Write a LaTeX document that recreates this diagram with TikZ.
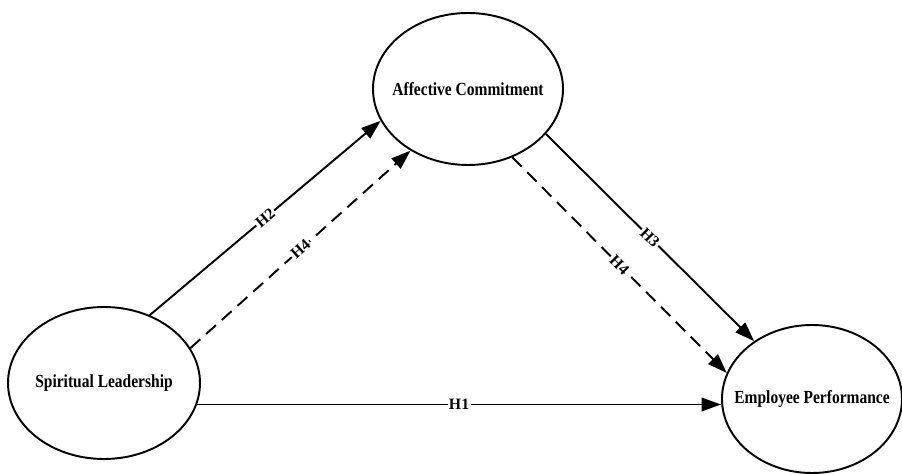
\documentclass[tikz,border=0pt]{standalone}
\usepackage{fontspec}
\setmainfont{Liberation Serif}
\newfontfamily\cnstfont[FakeStretch=0.84]{Liberation Serif}
\usetikzlibrary{positioning, arrows.meta, shapes.geometric}

\begin{document}
\begin{tikzpicture}[
		every edge/.style = {draw=black, line width=1.1pt},
		cnst/.style args = {#1/#2}{%
		ellipse, draw, line width=1.1pt, fill=white,
		minimum width=#1, minimum height=#2, inner sep=0pt},
		cnsttxt/.style = {font=\cnstfont\bfseries\fontsize{10.5}{12}\selectfont},
		hyp/.style = {fill=white, inner sep=0.8pt, sloped,
		font=\bfseries\fontsize{9}{10}\selectfont},
		dsh/.style = {dash pattern=on 7.5pt off 4.5pt},
		arr/.style = {-{Triangle[length=3.9mm,width=2.7mm]}}
                    ]
		\useasboundingbox (0,0) rectangle (18.04,9.5);
		\node(SL) [cnst=3.84cm/3.04cm] at (2.08, 1.84) {};
		\node(AC) [cnst=3.8cm/3.04cm] at (9.36, 7.72) {};
		\node(EP) [cnst=3.6cm/2.96cm] at (16.24, 1.52) {};
		\node(SLt) [cnsttxt] at (SL) {Spiritual Leadership};
		\node(ACt) [cnsttxt] at (AC) {Affective Commitment};
		\node(EPt) [cnsttxt] at (EP) {Employee Performance};

		\path   (SL.-13.5) edge[arr] node[hyp] {H1} (SL.-13.5 -| EP.west)
		        (SL.56) edge[arr] node[hyp] {H2} (AC.200.6)
		        (AC.330) edge[arr] node[hyp] {H3} (EP.135)
		        (SL.22) edge[arr, dsh] node[hyp] {H4} (AC.227.4)
		        (AC.303) edge[arr, dsh] node[hyp] {H4} (EP.163);
	\end{tikzpicture}
\end{document}
